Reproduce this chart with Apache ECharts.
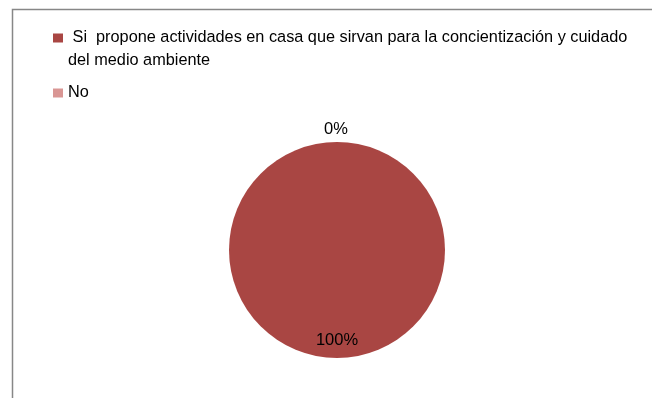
<!DOCTYPE html>
<html>
<head>
<meta charset="utf-8">
<script src="https://cdn.jsdelivr.net/npm/echarts@6/dist/echarts.min.js"></script>
<style>
  html, body { margin: 0; padding: 0; background: #ffffff; }
  #chart { width: 652px; height: 398px; }
</style>
</head>
<body>
<div id="chart"></div>
<script>
// Survey answers and their shares
const categories = [' Si  propone actividades en casa que sirvan para la concientización y cuidado\ndel medio ambiente', 'No'];
const values = [100, 0];
const colors = ['#A94643', '#D99694'];

const FONT = 'Liberation Sans Narrow, Arial Narrow, sans-serif';

// Legend markers: a 10x9 square inside a 10x32 box, so the marker
// lines up with the first text line (top) or the single line (middle).
const ICON_TOP = 'path://M0,0H10V9H0Z M0,32L0,32';
const ICON_MID = 'path://M0,11.5H10V20.5H0Z M0,0L0,0 M0,32L0,32';

const chart = echarts.init(document.getElementById('chart'), null, { renderer: 'canvas' });

const seriesData = categories.map((name, i) => ({
  name: name,
  value: values[i],
  itemStyle: { color: colors[i] },
  label: { position: i === 0 ? 'inside' : 'outside' }
}));

chart.setOption({
  animation: false,
  backgroundColor: '#ffffff',
  color: colors,
  graphic: [{
    type: 'rect',
    shape: { x: 12.5, y: 9.5, width: 700, height: 450 },
    style: { fill: 'none', stroke: '#878787', lineWidth: 1.5 },
    silent: true
  }],
  legend: {
    orient: 'vertical',
    left: 48,
    top: 21.5,
    itemWidth: 10,
    itemHeight: 32,
    itemGap: 4.5,
    data: categories.map((name, i) => ({ name: name, icon: i === 0 ? ICON_TOP : ICON_MID })),
    itemStyle: { borderWidth: 0 },
    textStyle: {
      fontFamily: FONT,
      fontSize: 16.3,
      color: '#000000',
      lineHeight: 23
    }
  },
  series: [{
    type: 'pie',
    center: [337, 250],
    radius: [0, 108],
    startAngle: 90,
    clockwise: true,
    data: seriesData,
    stillShowZeroSum: true,
    minShowLabelAngle: 0,
    avoidLabelOverlap: false,
    label: {
      show: true,
      formatter: '{d}%',
      fontFamily: FONT,
      fontSize: 16.5,
      color: '#000000'
    },
    labelLine: { show: false, length: 4, length2: 0 },
    labelLayout: function (params) {
      // nudge the labels to sit near the rim (full slice) and centred above the pie (empty slice)
      if (params.dataIndex === 0) {
        return { dy: 33 };
      }
      return { dx: -18, dy: -9 };
    },
    emphasis: { disabled: true }
  }]
});
</script>
</body>
</html>
